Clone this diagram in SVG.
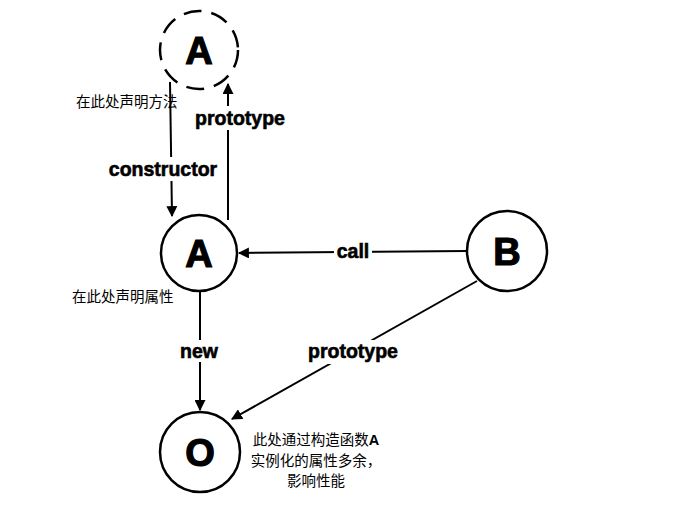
<svg xmlns="http://www.w3.org/2000/svg" width="679" height="513" viewBox="0 0 679 513">
<defs>
<marker id="arr" viewBox="0 0 10 10" refX="9" refY="5" markerWidth="5.5" markerHeight="5.5" orient="auto" markerUnits="strokeWidth">
<path d="M0,0 L10,5 L0,10 z" fill="#000"/>
</marker>
<style>
.node{fill:#fff;stroke:#000;stroke-width:2.5}
.dash{fill:none;stroke:#000;stroke-width:2.5;stroke-dasharray:18 10}
.big{font-family:"Liberation Sans",Arial,sans-serif;font-weight:900;font-size:38px;text-anchor:middle;fill:#000;stroke:#000;stroke-width:1.2}
.lbl{font-family:"Liberation Sans",Arial,sans-serif;font-weight:bold;font-size:19.5px;text-anchor:middle;fill:#000;stroke:#000;stroke-width:0.6}
.note{font-family:"Noto Sans CJK SC","Liberation Sans",sans-serif;font-size:14.5px;fill:#000}
.edge{fill:none;stroke:#000;stroke-width:2;marker-end:url(#arr)}
.bg{fill:#fff}
</style>
</defs>
<rect width="679" height="513" fill="#fff"/>
<g id="connectors">
<path class="edge" d="M170,82 L172,216"/>
<path class="edge" d="M228,220 L228,84"/>
<path class="edge" d="M467,251 L239,253"/>
<path class="edge" d="M200,292 L200,410"/>
<path class="edge" d="M477,281 L232,419"/>
<rect class="bg" x="104" y="157" width="118" height="24"/>
<rect class="bg" x="192" y="106" width="98" height="24"/>
<rect class="bg" x="334" y="240" width="38" height="22"/>
<rect class="bg" x="176" y="340" width="46" height="22"/>
<rect class="bg" x="303" y="340" width="100" height="24"/>
<text class="lbl" x="163" y="176">constructor</text>
<text class="lbl" x="240" y="125">prototype</text>
<text class="lbl" x="353" y="258">call</text>
<text class="lbl" x="199" y="358">new</text>
<text class="lbl" x="353" y="358">prototype</text>
</g>
<g id="nodeA0">
<circle class="dash" cx="199" cy="50" r="39"/>
<text class="big" x="199" y="64">A</text>
</g>
<g id="nodeA">
<circle class="node" cx="199" cy="253" r="38"/>
<text class="big" x="199" y="267">A</text>
</g>
<g id="nodeB">
<circle class="node" cx="507" cy="251" r="40"/>
<text class="big" x="507" y="265">B</text>
</g>
<g id="nodeO">
<circle class="node" cx="200" cy="452" r="40"/>
<text class="big" x="200" y="466">O</text>
</g>
<g id="notes">
<text class="note" x="76" y="107">在此处声明方法</text>
<text class="note" x="72" y="302">在此处声明属性</text>
<text class="note" x="316" y="445" text-anchor="middle">此处通过构造函数<tspan font-weight="bold" font-family="Liberation Sans,sans-serif">A</tspan></text>
<text class="note" x="316" y="466" text-anchor="middle">实例化的属性多余，</text>
<text class="note" x="316" y="486" text-anchor="middle">影响性能</text>
</g>
</svg>
